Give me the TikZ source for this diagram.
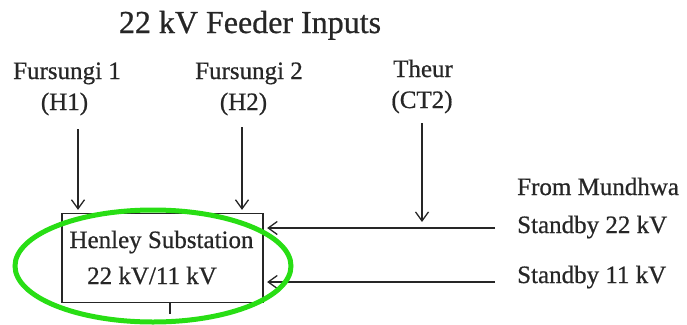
\documentclass[tikz,border=0pt]{standalone}
\usepackage{fontspec}
\setmainfont{Liberation Serif}[FakeBold=0.7]
\usetikzlibrary{arrows.meta}
\definecolor{ringgreen}{RGB}{40,222,20}
\begin{document}
\begin{tikzpicture}[x=1pt,y=-1pt,
  lbl/.style={font=\fontsize{25}{28}\selectfont, inner sep=0pt, anchor=base, text=black!85},
  ttl/.style={font=\fontsize{32}{35}\selectfont, inner sep=0pt, anchor=base, text=black!85},
  feed/.style={line width=1.3pt, draw=black!85, -{Straight Barb[length=9pt,width=13pt,line width=1.3pt]}},
  boxst/.style={draw=black!85, line width=1.3pt, minimum width=201pt, minimum height=89pt, inner sep=0pt}
]
\useasboundingbox (0,0) rectangle (687,324);
% title
\node[ttl] (title) at (250,33) {22 kV Feeder Inputs};
% feeder labels
\node[lbl] (f1) at (67,79) {Fursungi 1};
\node[lbl] (h1) at (64.5,110) {(H1)};
\node[lbl] (f2) at (249,79) {Fursungi 2};
\node[lbl] (h2) at (243.5,110) {(H2)};
\node[lbl] (th) at (423,77) {Theur};
\node[lbl] (ct) at (422,108) {(CT2)};
% box
\node[boxst] (box) at (162.5,258) {};
\node[lbl] (bt1) at (161.5,248) {Henley Substation};
\node[lbl] (bt2) at (152,284) {22 kV/11 kV};
% right labels
\node[lbl, anchor=base west] (fm) at (517,195) {From Mundhwa};
\node[lbl, anchor=base west] (s22) at (517,233) {Standby 22 kV};
\node[lbl, anchor=base west] (s11) at (517,283) {Standby 11 kV};
% arrow start coordinates
\coordinate (a1) at (78,129);
\coordinate (a2) at (242,127);
\coordinate (a3) at (422,123);
\coordinate (a3end) at (422,222);
\coordinate (l22) at (495,228);
\coordinate (l11) at (495,282);
\coordinate (tk) at (170,314);
% feeder arrows
\draw[feed, shorten >=3pt] (a1) -- (a1 |- box.north);
\draw[feed, shorten >=3pt] (a2) -- (a2 |- box.north);
\draw[feed] (a3) -- (a3end);
\draw[feed, shorten >=3.5pt] (l22) -- (l22 -| box.east);
\draw[feed, shorten >=3.5pt] (l11) -- (l11 -| box.east);
% tick below box
\draw[line width=1.2pt, draw=black!85] (tk |- box.south) -- (tk);
% green ring
\draw[ringgreen, line width=5pt] (153,266) ellipse [x radius=138, y radius=56];
\end{tikzpicture}
\end{document}
